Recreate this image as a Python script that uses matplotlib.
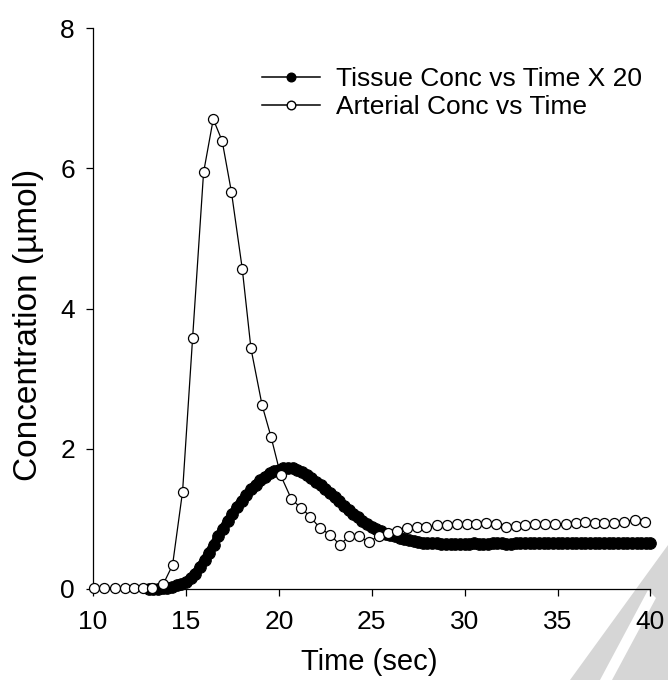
import matplotlib
matplotlib.use('Agg')
import matplotlib.pyplot as plt
from matplotlib.lines import Line2D
from matplotlib.patches import Polygon

plt.rcParams['font.family'] = ['Liberation Sans', 'DejaVu Sans']

# arterial concentration (open circles)
art_time = [10.05, 10.6, 11.2, 11.7, 12.2, 12.7, 13.2, 13.78, 14.28, 14.82,
            15.36, 15.95, 16.47, 16.95, 17.45, 18.03, 18.5, 19.1, 19.58, 20.1,
            20.68, 21.18, 21.7, 22.2, 22.78, 23.28, 23.78, 24.3, 24.84, 25.38,
            25.88, 26.38, 26.92, 27.44, 27.94, 28.53, 29.07, 29.6, 30.12, 30.63,
            31.17, 31.67, 32.2, 32.74, 33.26, 33.8, 34.34, 34.87, 35.43, 35.97,
            36.5, 37.0, 37.5, 38.06, 38.6, 39.14, 39.68]
art_conc = [0.02, 0.02, 0.02, 0.02, 0.02, 0.01, 0.02, 0.07, 0.34, 1.39,
            3.58, 5.94, 6.70, 6.39, 5.66, 4.57, 3.43, 2.62, 2.17, 1.62,
            1.28, 1.16, 1.03, 0.87, 0.77, 0.63, 0.75, 0.75, 0.67, 0.76,
            0.80, 0.82, 0.87, 0.88, 0.88, 0.91, 0.91, 0.93, 0.93, 0.92,
            0.94, 0.92, 0.89, 0.90, 0.91, 0.92, 0.92, 0.92, 0.93, 0.94,
            0.95, 0.94, 0.94, 0.94, 0.96, 0.99, 0.96]

# tissue concentration x 20 (filled dots)
tis_time = [13.0, 13.25, 13.5, 13.75, 14.0, 14.25, 14.5, 14.75,
            15.0, 15.25, 15.5, 15.75, 16.0, 16.25, 16.5, 16.75,
            17.0, 17.25, 17.5, 17.75, 18.0, 18.25, 18.5, 18.75,
            19.0, 19.25, 19.5, 19.75, 20.0, 20.25, 20.5, 20.75,
            21.0, 21.25, 21.5, 21.75, 22.0, 22.25, 22.5, 22.75,
            23.0, 23.25, 23.5, 23.75, 24.0, 24.25, 24.5, 24.75,
            25.0, 25.25, 25.5, 25.75, 26.0, 26.25, 26.5, 26.75,
            27.0, 27.25, 27.5, 27.75, 28.0, 28.25, 28.5, 28.75,
            29.0, 29.25, 29.5, 29.75, 30.0, 30.25, 30.5, 30.75,
            31.0, 31.25, 31.5, 31.75, 32.0, 32.25, 32.5, 32.75,
            33.0, 33.25, 33.5, 33.75, 34.0, 34.25, 34.5, 34.75,
            35.0, 35.25, 35.5, 35.75, 36.0, 36.25, 36.5, 36.75,
            37.0, 37.25, 37.5, 37.75, 38.0, 38.25, 38.5, 38.75,
            39.0, 39.25, 39.5, 39.75, 40.0]
tis_conc = [0.00, 0.00, 0.00, 0.01, 0.02, 0.03, 0.05, 0.07,
            0.10, 0.15, 0.22, 0.31, 0.41, 0.52, 0.63, 0.75,
            0.86, 0.97, 1.07, 1.17, 1.26, 1.34, 1.42, 1.49,
            1.55, 1.60, 1.65, 1.68, 1.70, 1.72, 1.72, 1.72,
            1.70, 1.67, 1.63, 1.58, 1.53, 1.48, 1.43, 1.37,
            1.31, 1.25, 1.19, 1.13, 1.07, 1.02, 0.97, 0.93,
            0.89, 0.85, 0.82, 0.79, 0.77, 0.75, 0.73, 0.71,
            0.70, 0.68, 0.67, 0.66, 0.66, 0.65, 0.65, 0.64,
            0.64, 0.64, 0.64, 0.64, 0.64, 0.64, 0.65, 0.64,
            0.64, 0.64, 0.65, 0.65, 0.65, 0.64, 0.64, 0.65,
            0.65, 0.65, 0.65, 0.65, 0.65, 0.65, 0.65, 0.65,
            0.65, 0.65, 0.65, 0.65, 0.65, 0.65, 0.66, 0.65,
            0.65, 0.66, 0.66, 0.66, 0.66, 0.66, 0.66, 0.66,
            0.66, 0.66, 0.66, 0.66, 0.66]

x_ticks = [10, 15, 20, 25, 30, 35, 40]
y_ticks = [0, 2, 4, 6, 8]

fig = plt.figure(figsize=(6.68, 6.80), dpi=100)

# grey watermark corner from the scan
fig.patches.append(Polygon([(1, 1 - 545/680), (1, 0), (570/668, 0)],
                           closed=True, transform=fig.transFigure,
                           facecolor='#d6d6d6', edgecolor='none', zorder=-5))
fig.patches.append(Polygon([(648/668, 1 - 590/680), (656/668, 1 - 598/680),
                            (612/668, 0), (600/668, 0)],
                           closed=True, transform=fig.transFigure,
                           facecolor='white', edgecolor='none', zorder=-5))

ax = fig.add_axes([93/668, 91/680, 557.5/668, 561/680])
ax.set_zorder(1)
ax.patch.set_alpha(0)

# thick backing line makes the dense dots read as one band
ax.plot(tis_time, tis_conc, color='black', lw=6.5, solid_capstyle='round',
        clip_on=False, zorder=3)
ax.plot(tis_time, tis_conc, color='black', lw=0, marker='o', ms=8.3,
        mfc='black', mec='black', mew=0.8, clip_on=False, zorder=3)
ax.plot(art_time, art_conc, color='black', lw=0.9, marker='o', ms=7.2,
        mfc='white', mec='black', mew=0.9, clip_on=False, zorder=4)

ax.set_xlim(10, 40)
ax.set_ylim(0, 8)
ax.set_xticks(x_ticks)
ax.set_yticks(y_ticks)
ax.spines['top'].set_visible(False)
ax.spines['right'].set_visible(False)
for s in ['left', 'bottom']:
    ax.spines[s].set_linewidth(0.9)
ax.tick_params(axis='x', length=5, width=0.9, pad=10, labelsize=19)
ax.tick_params(axis='y', length=5, width=0.9, pad=8, labelsize=19)

ax.set_xlabel('Time (sec)', fontsize=21)
ax.xaxis.set_label_coords(0.495, -0.106)
ax.set_ylabel('Concentration (µmol)', fontsize=24)
ax.yaxis.set_label_coords(-0.088, 0.47)

handles = [
    Line2D([], [], color='black', lw=1.1, marker='o', ms=6.2, mfc='black', mec='black'),
    Line2D([], [], color='black', lw=1.1, marker='o', ms=6.2, mfc='white', mec='black'),
]
labels = ['Tissue Conc vs Time X 20', 'Arterial Conc vs Time']
ax.legend(handles, labels, loc='upper left', bbox_to_anchor=(262/668, 1 - 67/680),
          bbox_transform=fig.transFigure, frameon=False, borderpad=0, borderaxespad=0,
          handlelength=2.2, handletextpad=0.6, labelspacing=0.15, numpoints=1, fontsize=19)

fig.savefig('out.png', dpi=100)
